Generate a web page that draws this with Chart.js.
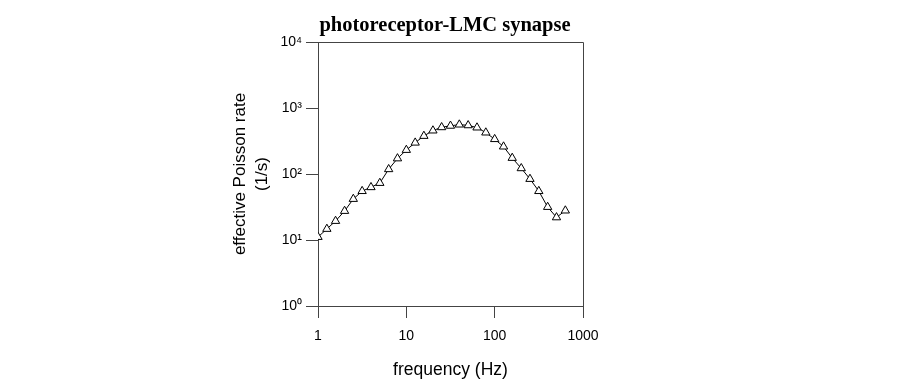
<!DOCTYPE html>
<html>
<head>
<meta charset="utf-8">
<script src="https://cdn.jsdelivr.net/npm/chart.js@4.4.0/dist/chart.umd.min.js"></script>
<style>
    html, body { margin: 0; padding: 0; background: #fff; }
    #wrap { width: 900px; height: 388px; }
</style>
</head>
<body>
<div id="wrap"><canvas id="synapseChart" width="900" height="388"></canvas></div>
<script>
// frequency (Hz), ten points per decade
const frequencies = [1, 1.26, 1.58, 2, 2.51, 3.16, 3.98, 5.01, 6.31, 7.94,
    10, 12.6, 15.8, 20, 25.1, 31.6, 39.8, 50.1, 63.1, 79.4,
    100, 126, 158, 200, 251, 316, 398, 501, 631];
// effective Poisson rate (1/s)
const poissonRate = [11.1, 14.7, 19.4, 27.5, 41.8, 55, 63, 73, 118, 172,
    231, 298, 377, 455, 510, 537, 560, 546, 505, 424,
    337, 260, 175, 122, 84, 55, 31.6, 22, 27.9];

const xTicks = [1, 10, 100, 1000];
const yTicks = [1, 10, 100, 1000, 10000];
const yTickLabels = ['10\u2070', '10\u00B9', '10\u00B2', '10\u00B3', '10\u2074'];

const axisColor = '#444';
const sansFont = '"Liberation Sans", Arial, sans-serif';

// draws the top and right sides of the plot box
const frameBox = {
    id: 'frameBox',
    afterDraw(chart) {
        const {ctx, chartArea} = chart;
        ctx.save();
        ctx.strokeStyle = axisColor;
        ctx.lineWidth = 1;
        ctx.beginPath();
        ctx.moveTo(chartArea.left, chartArea.top + 0.5);
        ctx.lineTo(chartArea.right + 0.5, chartArea.top + 0.5);
        ctx.lineTo(chartArea.right + 0.5, chartArea.bottom);
        ctx.stroke();
        ctx.restore();
    }
};

const ctx = document.getElementById('synapseChart');

new Chart(ctx, {
    type: 'line',
    data: {
        datasets: [{
            data: frequencies.map((f, i) => ({x: f, y: poissonRate[i]})),
            borderColor: '#000',
            borderWidth: 1,
            tension: 0,
            pointStyle: 'triangle',
            pointRadius: 4.8,
            pointBackgroundColor: '#fff',
            pointBorderColor: '#000',
            pointBorderWidth: 1
        }]
    },
    options: {
        responsive: false,
        animation: false,
        devicePixelRatio: 1,
        layout: {
            padding: {left: 0, right: 10, top: 0, bottom: 0}
        },
        plugins: {
            legend: {display: false},
            tooltip: {enabled: false},
            title: {
                display: true,
                text: 'photoreceptor-LMC synapse',
                color: '#000',
                font: {family: '"Liberation Serif", "Times New Roman", serif', size: 20.5, weight: 'bold', lineHeight: 1.2},
                padding: {top: 13.4, bottom: 4}
            }
        },
        scales: {
            x: {
                type: 'logarithmic',
                min: 1,
                max: 1000,
                afterBuildTicks: scale => { scale.ticks = xTicks.map(v => ({value: v})); },
                afterFit: scale => { scale.height = 82; },
                ticks: {
                    color: '#000',
                    padding: 10,
                    maxRotation: 0,
                    font: {family: sansFont, size: 14},
                    callback: value => String(value)
                },
                grid: {
                    display: true,
                    drawOnChartArea: false,
                    drawTicks: true,
                    tickLength: 12,
                    color: axisColor
                },
                border: {display: true, color: axisColor},
                title: {
                    display: true,
                    text: 'frequency (Hz)',
                    color: '#000',
                    font: {family: sansFont, size: 17.5, lineHeight: 1.3},
                    padding: {top: 0, bottom: 6}
                }
            },
            y: {
                type: 'logarithmic',
                min: 1,
                max: 10000,
                afterBuildTicks: scale => { scale.ticks = yTicks.map(v => ({value: v})); },
                afterFit: scale => { scale.width = 318; },
                ticks: {
                    color: '#000',
                    padding: 4,
                    font: {family: sansFont, size: 14},
                    callback: value => yTickLabels[yTicks.indexOf(value)]
                },
                grid: {
                    display: true,
                    drawOnChartArea: false,
                    drawTicks: true,
                    tickLength: 12,
                    color: axisColor
                },
                border: {display: true, color: axisColor},
                title: {
                    display: true,
                    text: ['effective Poisson rate', '(1/s)'],
                    color: '#000',
                    font: {family: sansFont, size: 17, lineHeight: 1.3},
                    padding: {top: 229, bottom: 0}
                }
            },
            // empty right-hand box so the plot area ends where the reference's does
            spacer: {
                type: 'linear',
                position: 'right',
                display: true,
                afterFit: scale => { scale.width = 307; },
                ticks: {display: false},
                grid: {display: false},
                border: {display: false}
            }
        }
    },
    plugins: [frameBox]
});
</script>
</body>
</html>
